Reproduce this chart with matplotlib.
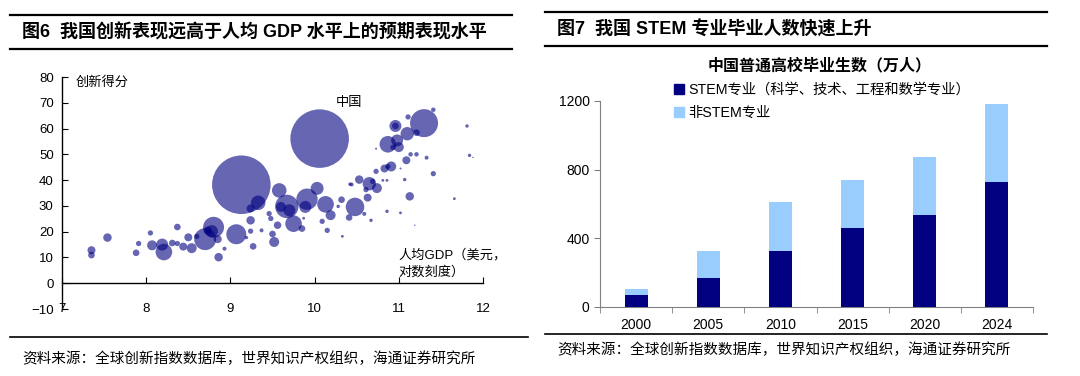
import numpy as np
import matplotlib
matplotlib.use("Agg")
import matplotlib.pyplot as plt
from matplotlib.lines import Line2D
from matplotlib.patches import Patch

plt.rcParams['font.family'] = ['Liberation Sans', 'Noto Sans CJK SC', 'DejaVu Sans']

# ---- figure 6: innovation score vs log GDP per capita (bubble) ----
log_gdp = [7.35, 7.35, 7.54, 7.88, 7.91, 8.05, 8.07, 8.19, 8.21, 8.37,
           8.31, 8.37, 8.44, 8.50, 8.54, 8.60, 8.70, 8.80, 8.78, 8.73,
           8.85, 8.86, 8.93, 9.07, 9.13, 9.33, 9.24, 9.24, 9.24, 9.27,
           9.19, 9.46, 9.48, 9.37, 9.50, 9.52, 9.56, 9.58, 9.67, 9.60,
           9.70, 9.75, 9.85, 9.87, 9.91, 10.03, 9.89, 10.13, 10.19, 10.32,
           10.06, 10.09, 10.15, 10.28, 10.33, 10.42, 10.41, 10.48, 10.59, 10.67,
           10.86, 11.02, 11.19, 10.44, 10.53, 10.65, 10.69, 10.74, 10.61, 10.63,
           11.13, 11.66, 10.81, 10.86, 10.73, 10.83, 10.91, 10.87, 11.02, 11.07,
           11.09, 11.14, 11.21, 11.33, 11.41, 10.73, 10.87, 10.98, 11.00, 10.93,
           10.96, 10.96, 11.10, 11.21, 11.11, 11.30, 11.41, 11.81, 11.84, 11.88]
score = [12.8, 10.9, 17.7, 11.8, 15.4, 19.5, 14.7, 15.0, 12.1, 21.8,
         15.6, 15.4, 14.2, 17.8, 13.6, 18.2, 17.1, 21.7, 20.2, 20.5,
         17.1, 10.1, 13.4, 19.0, 38.2, 31.2, 29.0, 24.4, 20.2, 14.3,
         17.7, 27.0, 25.1, 20.5, 19.1, 16.0, 22.5, 36.0, 29.8, 29.6,
         28.3, 23.1, 21.2, 25.2, 32.6, 36.8, 29.6, 30.6, 26.4, 32.4,
         56.1, 24.0, 20.5, 29.8, 18.2, 38.4, 25.5, 29.6, 26.9, 24.4,
         27.9, 27.3, 22.5, 38.3, 40.2, 38.6, 39.5, 36.9, 36.3, 33.2,
         33.7, 32.8, 39.9, 39.9, 43.4, 44.5, 45.3, 45.3, 44.5, 40.2,
         47.7, 50.0, 50.0, 48.7, 42.5, 52.2, 53.9, 55.4, 52.8, 52.7,
         61.0, 61.0, 58.0, 58.4, 64.5, 62.1, 67.3, 61.0, 49.6, 48.8]
population = [16, 11, 18, 11, 7, 7, 25, 36, 69, 11,
              11, 7, 16, 16, 25, 7, 121, 110, 36, 16,
              16, 18, 4, 100, 858, 53, 16, 18, 7, 11,
              3, 7, 7, 4, 11, 25, 14, 53, 137, 25,
              36, 69, 11, 2, 114, 42, 36, 69, 25, 11,
              858, 7, 7, 3, 2, 3, 11, 86, 4, 3,
              3, 2, 0.5, 4, 18, 45, 7, 25, 7, 16,
              18, 2, 2, 2, 7, 16, 25, 7, 1, 3,
              16, 5, 5, 4, 7, 1, 69, 36, 25, 7,
              36, 11, 45, 11, 7, 196, 5, 3, 3, 0.5]

# ---- figure 7: graduates (10k persons) ----
years = ['2000', '2005', '2010', '2015', '2020', '2024']
stem = [68, 170, 329, 462, 536, 726]
non_stem = [36, 159, 284, 277, 339, 456]

fig = plt.figure(figsize=(10.8, 3.76), dpi=100)
W, H = 1080.0, 376.0

# header / footer rules
def hline(x0, x1, y, lw=1.6):
    fig.add_artist(Line2D([x0 / W, x1 / W], [1 - y / H, 1 - y / H], color='black', lw=lw))

hline(10, 512, 15)
hline(10, 512, 49)
hline(545, 1047, 12)
hline(545, 1047, 46)
hline(10, 528, 337, lw=1.2)
hline(545, 1047, 334, lw=1.2)

fig.text(22 / W, 1 - 33 / H, '图6  我国创新表现远高于人均 GDP 水平上的预期表现水平',
         fontsize=13, fontweight='bold', va='center', ha='left')
fig.text(557 / W, 1 - 30 / H, '图7  我国 STEM 专业毕业人数快速上升',
         fontsize=13, fontweight='bold', va='center', ha='left')
fig.text(22 / W, 1 - 359 / H, '资料来源：全球创新指数数据库，世界知识产权组织，海通证券研究所',
         fontsize=10.5, va='center', ha='left')
fig.text(557 / W, 1 - 350 / H, '资料来源：全球创新指数数据库，世界知识产权组织，海通证券研究所',
         fontsize=10.5, va='center', ha='left')

# left chart
ax1 = fig.add_axes([62 / W, 1 - 309 / H, (483 - 62) / W, (309 - 77) / H])
ax1.scatter(log_gdp, score, s=np.array(population) * 2.07, color='#000080',
            alpha=0.6, edgecolors='none', zorder=3)
ax1.set_xlim(7, 12)
ax1.set_ylim(-10, 80)
ax1.spines['top'].set_visible(False)
ax1.spines['right'].set_visible(False)
ax1.spines['bottom'].set_position(('data', 0))
ax1.spines['left'].set_linewidth(1.0)
ax1.spines['bottom'].set_linewidth(1.0)
ax1.set_yticks(range(-10, 90, 10))
ax1.set_xticks([7, 8, 9, 10, 11, 12])
ax1.tick_params(axis='y', direction='in', length=4, labelsize=9.5, pad=6)
ax1.tick_params(axis='x', direction='in', length=4, labelsize=9.5, pad=14)
ax1.text(7.16, 78, '创新得分', fontsize=9.5, va='center', ha='left',
         family=['Noto Sans CJK SC'])
ax1.text(10.25, 70, '中国', fontsize=9.5, va='center', ha='left',
         family=['Noto Sans CJK SC'])
ax1.text(11.0, 10.8, '人均GDP（美元，', fontsize=9.5, va='center', ha='left')
ax1.text(11.0, 4.2, '对数刻度）', fontsize=9.5, va='center', ha='left')

# right chart
ax2 = fig.add_axes([600 / W, 1 - 307 / H, 433 / W, 206 / H])
x = np.arange(len(years))
ax2.bar(x, stem, width=0.32, color='#000080', zorder=3)
ax2.bar(x, non_stem, width=0.32, bottom=stem, color='#99CCFF', zorder=3)
ax2.set_xlim(-0.5, len(years) - 0.5)
ax2.set_ylim(0, 1200)
ax2.set_yticks([0, 400, 800, 1200])
ax2.set_xticks(x)
ax2.set_xticklabels(years)
ax2.set_xticks(np.arange(len(years) + 1) - 0.5, minor=True)
ax2.tick_params(axis='x', which='major', length=0, labelsize=10, pad=8)
ax2.tick_params(axis='x', which='minor', direction='out', length=4, color='#808080')
ax2.tick_params(axis='y', direction='out', length=4, labelsize=10, color='#808080')
for side in ['top', 'right']:
    ax2.spines[side].set_visible(False)
for side in ['left', 'bottom']:
    ax2.spines[side].set_color('#808080')
fig.text(820 / W, 1 - 66 / H, '中国普通高校毕业生数（万人）', fontsize=11.5,
         fontweight='bold', va='center', ha='center')

handles = [Patch(color='#000080'), Patch(color='#99CCFF')]
fig.legend(handles, ['STEM专业（科学、技术、工程和数学专业）', '非STEM专业'],
           loc='upper left', bbox_to_anchor=(674 / W, 1 - 83 / H), frameon=False,
           fontsize=10.3, handlelength=0.7, handleheight=0.7, handletextpad=0.3,
           labelspacing=0.6, borderpad=0, borderaxespad=0)

fig.savefig('out.png', dpi=100)
